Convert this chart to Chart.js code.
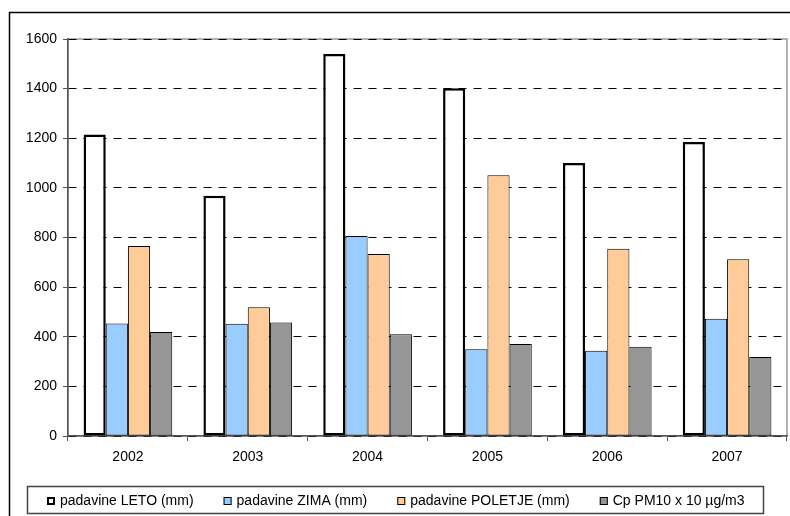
<!DOCTYPE html>
<html>
<head>
<meta charset="utf-8">
<script src="https://cdn.jsdelivr.net/npm/chart.js@4/dist/chart.umd.min.js"></script>
<style>
  html, body { margin: 0; padding: 0; background: #ffffff; }
  canvas { display: block; }
</style>
</head>
<body>
<canvas id="chart" width="790" height="516"></canvas>
<script>
// Padavine po letnih časih (mm) in koncentracija PM10 (x 10 µg/m3)
const years = ['2002', '2003', '2004', '2005', '2006', '2007'];
const letoMm = [1215, 968, 1540, 1402, 1100, 1185];
const zimaMm = [453, 452, 806, 350, 344, 473];
const poletjeMm = [766, 519, 734, 1051, 755, 712];
const pm10x10 = [419, 457, 410, 371, 360, 318];
const seriesNames = ['padavine LETO (mm)', 'padavine ZIMA (mm)', 'padavine POLETJE (mm)', 'Cp PM10 x 10 µg/m3'];
const yMin = 0, yMax = 1600, yStep = 200;

const FONT = "'Liberation Sans', Arial, Helvetica, sans-serif";

// Outer frame, grey plot-area border and the boxed legend
const decorations = {
  id: 'decorations',
  beforeDraw(chart) {
    const ctx = chart.ctx;
    const a = chart.chartArea;
    ctx.save();
    ctx.strokeStyle = '#000';
    ctx.lineWidth = 1.5;
    ctx.strokeRect(9.5, 12.5, 900, 600);
    ctx.strokeStyle = '#9a9a9a';
    ctx.lineWidth = 1.5;
    ctx.strokeRect(a.left, a.top, a.right - a.left, a.bottom - a.top);
    ctx.restore();
  },
  afterDraw(chart) {
    const ctx = chart.ctx;
    ctx.save();
    // legend frame
    ctx.strokeStyle = '#444';
    ctx.lineWidth = 1.5;
    ctx.strokeRect(27.5, 486.5, 736, 27);

    ctx.font = '14px ' + FONT;
    ctx.textBaseline = 'alphabetic';
    ctx.textAlign = 'left';
    const box = 8, gapText = 5, gapItem = 30;
    const ds = chart.data.datasets;
    const widths = ds.map(d => box + gapText + ctx.measureText(d.label).width);
    const total = widths.reduce((s, w) => s + w, 0) + gapItem * (ds.length - 1);
    let x = Math.round(396 - total / 2);
    const baseY = 505, boxTop = 497;
    ds.forEach((d, i) => {
      ctx.fillStyle = d.backgroundColor;
      ctx.fillRect(x, boxTop, box, box);
      const bw = d.borderWidth > 1.5 ? 2 : 1;
      ctx.strokeStyle = '#000';
      ctx.lineWidth = bw;
      ctx.strokeRect(x + bw / 2, boxTop + bw / 2, box - bw, box - bw);
      ctx.fillStyle = '#000';
      ctx.fillText(d.label, x + box + gapText, baseY);
      x += widths[i] + gapItem;
    });
    ctx.restore();
  }
};

new Chart(document.getElementById('chart'), {
  type: 'bar',
  data: {
    labels: years,
    datasets: [
      { label: seriesNames[0], data: letoMm, backgroundColor: '#ffffff', borderColor: '#000000', borderWidth: 2.5 },
      { label: seriesNames[1], data: zimaMm, backgroundColor: '#99ccff', borderColor: '#000000', borderWidth: 1 },
      { label: seriesNames[2], data: poletjeMm, backgroundColor: '#ffcc99', borderColor: '#000000', borderWidth: 1 },
      { label: seriesNames[3], data: pm10x10, backgroundColor: '#969696', borderColor: '#000000', borderWidth: 1 }
    ]
  },
  options: {
    responsive: false,
    animation: false,
    devicePixelRatio: 1,
    layout: { padding: { left: 0, top: 39, right: 3, bottom: 0 } },
    datasets: { bar: { barPercentage: 1.0, categoryPercentage: 0.74, borderSkipped: false } },
    plugins: { legend: { display: false }, tooltip: { enabled: false } },
    scales: {
      x: {
        afterFit(scale) { scale.height = 80; },
        grid: { display: true, drawOnChartArea: false, drawTicks: true, tickLength: 5, tickColor: '#555', tickWidth: 1, offset: true },
        border: { display: true, color: '#555', width: 1.5 },
        ticks: { color: '#000', font: { family: FONT, size: 14 }, padding: 8, maxRotation: 0 }
      },
      y: {
        min: yMin, max: yMax,
        afterFit(scale) { scale.width = 68; },
        grid: { color: '#000', lineWidth: 1, drawTicks: true, tickLength: 5, tickColor: '#555', tickWidth: 1 },
        border: { display: true, color: '#555', width: 1.5, dash: [8, 7] },
        ticks: { stepSize: yStep, color: '#000', font: { family: FONT, size: 14 }, padding: 6,
                 callback: v => String(v) }
      }
    }
  },
  plugins: [decorations]
});
</script>
</body>
</html>
